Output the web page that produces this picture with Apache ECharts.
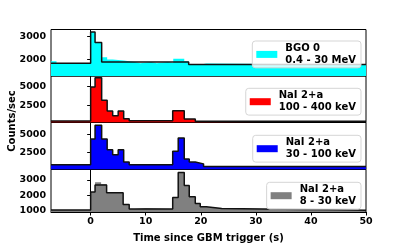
<!DOCTYPE html>
<html><head><meta charset="utf-8">
<script src="https://cdn.jsdelivr.net/npm/echarts@6/dist/echarts.min.js"></script>
<style>html,body{margin:0;padding:0;background:#fff}#c{width:407px;height:244px}</style>
</head><body><div id="c"></div>
<script>
// x axis
const xTicks = [0, 10, 20, 30, 40, 50];
// Panel 1: BGO 0, 0.4 - 30 MeV
const bgoBlockEdges = [-7.2, 0, 0.8, 2, 17.8, 50];
const bgoBlockVals  = [1841, 3185, 2730, 1897, 1790];
const bgoFillEdges  = [-7.2, -6.2, 0, 0.8, 2, 3, 4, 6, 8, 9, 11, 12, 14, 15, 17, 17.8, 20, 21, 50];
const bgoFillVals   = [1927, 1841, 3185, 2730, 2100, 2000, 1960, 1900, 1840, 1900, 1840, 1900, 1850, 2040, 1930, 1790, 1830, 1790];
const bgoTicks = [2000, 3000];
// Panel 2: NaI 2+a, 100 - 400 keV
const hiEdges = [-7.2, 0, 0.8, 2, 3, 4, 5, 6, 7, 14.9, 17, 19, 50];
const hiVals  = [430, 4900, 6130, 3160, 1750, 1130, 1750, 740, 470, 1790, 700, 400];
const hiTicks = [2500, 5000];
// Panel 3: NaI 2+a, 30 - 100 keV
const midEdges = [-7.2, 0, 0.8, 2, 3, 4, 5, 6, 7, 14.9, 15.9, 17, 17.9, 19, 20.5, 50];
const midVals  = [830, 4400, 6305, 4400, 2917, 2220, 2917, 1210, 830, 2690, 4540, 1620, 1210, 950, 600];
const midTicks = [2500, 5000];
// Panel 4: NaI 2+a, 8 - 30 keV
const loBlockEdges = [-7.2, 0, 0.8, 2.9, 5.9, 7, 14.9, 15.9, 17, 17.9, 19, 19.9, 21, 23.8, 50];
const loBlockVals  = [1060, 2220, 2672, 2180, 1417, 1120, 1857, 3494, 2643, 1910, 1476, 1262, 1143, 1040];
const loFillEdges  = [-7.2, 0, 0.8, 1.9, 2.9, 5.9, 7, 8, 10, 14.9, 15.9, 17, 17.9, 19, 19.9, 21, 23.8, 50];
const loFillVals   = [1060, 2220, 2860, 2720, 2180, 1417, 1120, 1180, 1120, 1857, 3494, 2643, 1910, 1476, 1262, 1143, 1040];
const loTicks = [1000, 2000, 3000];

const yRanges = [[1296, 3288], [237, 6355], [167, 6694], [923, 3684]];
const names = ['BGO 0\n0.4 - 30 MeV', 'NaI 2+a\n100 - 400 keV', 'NaI 2+a\n30 - 100 keV', 'NaI 2+a\n8 - 30 keV'];
const colors = ['#00ffff', '#ff0000', '#0000ff', '#808080'];

function steps(edges, vals) {
  const d = [];
  for (let i = 0; i < vals.length; i++) d.push([edges[i], vals[i]]);
  d.push([edges[edges.length - 1], vals[vals.length - 1]]);
  return d;
}

const font = '"DejaVu Sans", sans-serif';
const tops = [29.5, 76, 122.5, 169.5];
const bottoms = [76, 122.5, 169.5, 216];
const grids = tops.map((t, i) => ({
  left: 51, width: 315, top: t, height: bottoms[i] - t,
  show: true, borderColor: '#000', borderWidth: 1, backgroundColor: 'transparent', containLabel: false
}));
const plain = v => String(v);
const xAxes = tops.map((t, i) => ({
  type: 'value', gridIndex: i, min: -7.2, max: 50,
  splitLine: { show: false },
  axisLine: { show: i === 3, lineStyle: { color: '#000', width: 1 } },
  axisTick: { show: i === 3, customValues: xTicks, length: 3.5, lineStyle: { color: '#000' } },
  axisLabel: { show: i === 3, customValues: xTicks, formatter: plain, color: '#000', fontFamily: font, fontWeight: 'bold', fontSize: 9.5, margin: 5 },
  name: i === 3 ? 'Time since GBM trigger (s)' : '',
  nameLocation: 'middle', nameGap: 21,
  nameTextStyle: { color: '#000', fontFamily: font, fontWeight: 'bold', fontSize: 10 }
}));
const tickSets = [bgoTicks, hiTicks, midTicks, loTicks];
const yAxes = yRanges.map((r, i) => ({
  type: 'value', gridIndex: i, min: r[0], max: r[1],
  splitLine: { show: false },
  axisLine: { show: true, lineStyle: { color: '#000', width: 1 } },
  axisTick: { show: true, customValues: tickSets[i], length: 3.5, lineStyle: { color: '#000' } },
  axisLabel: { customValues: tickSets[i], formatter: plain, color: '#000', fontFamily: font, fontWeight: 'bold', fontSize: 9.5, margin: 5 }
}));

const fillData = [steps(bgoFillEdges, bgoFillVals), steps(hiEdges, hiVals), steps(midEdges, midVals), steps(loFillEdges, loFillVals)];
const lineData = [steps(bgoBlockEdges, bgoBlockVals), steps(hiEdges, hiVals), steps(midEdges, midVals), steps(loBlockEdges, loBlockVals)];

const series = [];
for (let i = 0; i < 4; i++) {
  series.push({
    name: names[i], type: 'line', step: 'end', xAxisIndex: i, yAxisIndex: i,
    data: fillData[i], showSymbol: false, color: colors[i],
    lineStyle: { width: 0, color: colors[i] },
    areaStyle: { color: colors[i], opacity: 1, origin: 'start' }, z: 2
  });
  series.push({
    name: 'blocks' + i, type: 'line', step: 'end', xAxisIndex: i, yAxisIndex: i,
    data: lineData[i], showSymbol: false,
    lineStyle: { width: 1.5, color: '#111' }, z: 3
  });
}

const legendTops = [41, 88.3, 135.3, 182.3];
const legends = names.map((n, i) => ({
  data: [{ name: n, icon: 'rect', itemStyle: { color: colors[i], borderWidth: 0 } }],
  right: 46, top: legendTops[i], orient: 'vertical',
  itemWidth: 21, itemHeight: 7, padding: [1, 5, 1, 4],
  backgroundColor: 'rgba(255,255,255,0.8)', borderColor: '#d5d5d5', borderWidth: 1, borderRadius: 3,
  selectedMode: false,
  textStyle: { color: '#000', fontFamily: font, fontWeight: 'bold', fontSize: 10, lineHeight: 12.4, padding: [0, 0, 0, 3] }
}));

const chart = echarts.init(document.getElementById('c'), null, { renderer: 'canvas' });
chart.setOption({
  animation: false,
  grid: grids, xAxis: xAxes, yAxis: yAxes, series: series, legend: legends,
  graphic: [{
    type: 'text', x: 12, y: 121, rotation: Math.PI / 2,
    style: { text: 'Counts/sec', font: 'bold 10px "DejaVu Sans"', fill: '#000', align: 'center', verticalAlign: 'middle' }
  }]
});
</script></body></html>
